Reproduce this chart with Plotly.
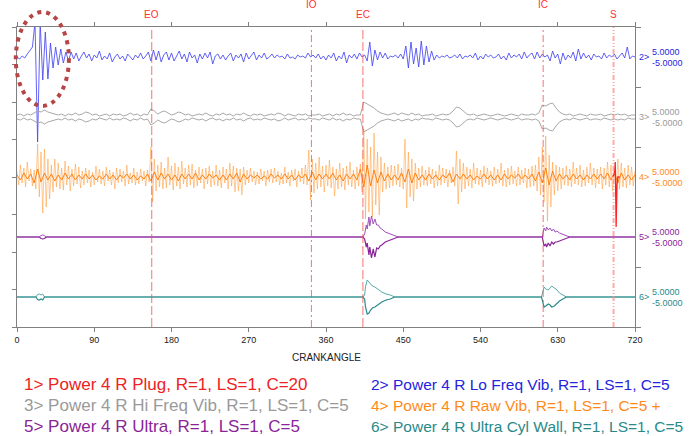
import numpy as np
import plotly.graph_objects as go

# ---------------- data ----------------
channel_names = ["1> Power 4 R Plug, R=1, LS=1, C=20",
                 "2> Power 4 R Lo Freq Vib, R=1, LS=1, C=5",
                 "3> Power 4 R Hi Freq Vib, R=1, LS=1, C=5",
                 "4> Power 4 R Raw Vib, R=1, LS=1, C=5 +",
                 "5> Power 4 R Ultra, R=1, LS=1, C=5",
                 "6> Power 4 R Ultra Cyl Wall, R=1, LS=1, C=5"]
channel_colors = ["#EE2222", "#2424DD", "#9A9A9A", "#FF8A1A", "#8A2598", "#2A8A8A"]
channel_offsets = [150, 270, 210, 150, 90, 30]
scale_top = "5.0000"
scale_bot = "-5.0000"

x_ticks = [0, 90, 180, 270, 360, 450, 540, 630, 720]
event_names = ["EO", "IO", "EC", "IC", "S"]
event_deg = [157, 343, 403, 613, 695]

# channel 1 (plug) spike near S
red_x = [694, 696, 697, 698, 699, 700, 702]
red_y = [0, 3, 15, -50, -8, 0, 0]

# channel 2 (lo freq vib) every 3 deg
blue_y = [0, -2, 1, -1, 3, 6, 10, 35, -85, 35,
          -23, 25, -22, 14, -11, 10, -8, 8, -6, 5,
          -4, 5, -2, 4, -4, 1, 5, -1, 3, -4,
          2, -1, 6, -3, 1, -2, 4, -5, 0, 3,
          -2, 1, -4, 3, 0, -3, 2, -1, 4, -2,
          1, 5, -4, 7, -3, 6, -5, 2, 5, -3,
          4, -4, 1, 6, -2, 3, -5, 5, -1, 2,
          -6, 3, -2, 4, -1, 5, -7, 1, 3, -2,
          2, -3, 1, 4, -4, 2, -1, 3, -5, 4,
          -2, 1, 5, -3, 2, -1, 4, -2, 0, 3,
          -1, 2, 0, 1, -2, 3, -1, 0, -2, 2,
          0, 1, -1, 4, 0, 2, -1, 3, -2, 1,
          -3, 2, -1, 4, -4, 1, -2, 5, -6, 2,
          -1, 3, -2, 4, 0, 2, -4, 15, -9, 7,
          -3, 5, -1, 4, -2, 1, 0, 2, -1, 3,
          -2, 11, -11, 15, -7, 9, -10, 16, -8, 11,
          -5, 6, -3, 2, -1, 1, 0, 2, -1, 0,
          2, -1, 3, -2, 1, 0, 2, -1, 4, -3,
          1, -2, 3, 0, 2, -1, 0, 3, -2, 1,
          -3, 4, -1, 2, 0, 3, -2, 5, -1, 2,
          4, -2, 5, -1, 3, 0, 2, -4, 6, -1,
          3, -7, 4, -3, 2, -1, 5, -4, 8, -2,
          4, -1, 2, -3, 3, 0, 1, -2, 4, -1,
          2, 0, 3, -2, 1, 4, -1, 10, -2, 1, 0]

# channel 3 (hi freq vib) envelope every 4 deg
gray_env = [2, 3, 1, 3, 2, 4, 6, 5, 7, 5,
            4, 3, 2, 3, 1, 3, 2, 4, 2, 3,
            5, 4, 2, 3, 1, 2, 3, 1, 3, 2,
            3, 1, 2, 4, 2, 3, 1, 3, 2, 8,
            6, 3, 5, 6, 4, 2, 3, 5, 4, 2,
            3, 1, 2, 3, 2, 4, 2, 1, 3, 2,
            4, 2, 3, 1, 3, 2, 4, 2, 1, 3,
            2, 3, 1, 2, 3, 2, 4, 3, 1, 3,
            2, 1, 3, 2, 3, 1, 2, 2, 3, 1,
            2, 3, 1, 3, 2, 4, 2, 3, 1, 2,
            2, 15, 13, 11, 9, 6, 4, 3, 2, 3,
            4, 2, 4, 3, 2, 4, 2, 3, 1, 2,
            2, 3, 1, 2, 3, 2, 3, 6, 10, 9,
            6, 3, 2, 3, 1, 2, 3, 2, 1, 2,
            3, 2, 1, 2, 3, 2, 1, 3, 2, 2,
            3, 2, 4, 12, 11, 13, 14, 9, 5, 3,
            2, 3, 1, 2, 3, 2, 1, 3, 2, 2,
            3, 1, 2, 3, 2, 3, 2, 3, 1, 2,
            2]

# channel 4 (raw vib) every 2 deg
orange_y = [5, -8, 12, -6, 9, -10, 15, -4, 8, -9,
            7, -12, 33, -20, 25, -36, 28, -30, 18, -22,
            12, -15, 18, -10, 14, -12, 9, -13, 16, -8,
            11, -14, 8, -9, 13, -7, 10, -11, 6, -8,
            9, -6, 7, -10, 5, -8, 11, -5, 8, -7,
            6, -9, 10, -4, 7, -8, 5, -12, 9, -6,
            8, -5, 6, -9, 12, -7, 4, -6, 9, -8,
            5, -7, 8, -4, 6, -9, 7, -5, 30, -25,
            18, -14, 12, -10, 15, -12, 9, -11, 20, -8,
            11, -13, 14, -9, 10, -12, 16, -7, 9, -10,
            12, -8, 13, -11, 7, -9, 10, -6, 8, -12,
            9, -7, 11, -10, 6, -8, 12, -9, 7, -11,
            10, -6, 8, -12, 14, -9, 11, -15, 9, -14,
            8, -18, 10, -8, 7, -6, 9, -5, 6, -8,
            5, -7, 8, -4, 6, -9, 7, -5, 8, -6,
            9, -5, 6, -8, 4, -7, 10, -6, 5, -9,
            7, -4, 8, -10, 6, -5, 9, -7, 12, -8,
            27, -23, 18, -16, 14, -12, 20, -10, 11, -15,
            12, -9, 17, -11, 10, -19, 8, -12, 14, -10,
            9, -13, 11, -8, 15, -10, 7, -12, 10, -9,
            13, -15, 48, -42, 38, -35, 30, -40, 44, -28,
            25, -38, 20, -15, 14, -12, 10, -11, 12, -9,
            11, -8, 13, -10, 9, -12, 38, -31, 25, -20,
            18, -24, 14, -12, 9, -10, 11, -8, 7, -9,
            10, -7, 8, -11, 6, -9, 12, -8, 9, -6,
            8, -10, 7, -6, 10, -9, 26, -27, 18, -15,
            14, -12, 10, -9, 8, -11, 14, -7, 9, -8,
            7, -10, 11, -6, 9, -8, 6, -9, 10, -7,
            8, -6, 14, -9, 7, -10, 9, -8, 11, -7,
            6, -9, 10, -8, 7, -6, 9, -11, 8, -10,
            11, -9, 12, -14, 20, -18, 30, -25, 41, -44,
            22, -30, 15, -18, 12, -14, 10, -12, 9, -8,
            11, -9, 8, -10, 15, -7, 9, -8, 12, -10,
            7, -9, 10, -6, 14, -8, 9, -11, 8, -7,
            10, -12, 9, -8, 15, -10, 12, -14, 9, -16,
            18, -12, 14, -10, 9, -11, 12, -8, 10, -9,
            6]
# dense core of channel 4, every 4 deg
orange_core = [2, -3, 4, -2, 3, -6, 8, -5, 4, -3,
               3, -4, 2, -3, 4, -2, 3, -3, 2, -2,
               3, -2, 2, -3, 1, -2, 3, -2, 2, -3,
               2, -1, 3, -2, 2, -3, 1, -2, 3, -4,
               5, -3, 4, -2, 3, -3, 2, -4, 3, -2,
               3, -2, 4, -3, 2, -2, 3, -1, 2, -3,
               2, -3, 3, -2, 4, -5, 3, -2, 2, -1,
               2, -2, 1, -2, 3, -1, 2, -2, 3, -2,
               2, -3, 2, -1, 3, -4, 5, -3, 3, -2,
               3, -2, 4, -3, 2, -4, 3, -2, 3, -3,
               8, -10, 12, -9, 7, -6, 5, -4, 3, -3,
               2, -3, 4, -5, 8, -6, 4, -3, 2, -3,
               3, -2, 2, -3, 2, -1, 4, -5, 3, -2,
               3, -2, 2, -3, 1, -2, 3, -2, 2, -3,
               2, -3, 3, -2, 2, -1, 3, -2, 2, -2,
               3, -4, 5, -6, 9, -8, 6, -4, 3, -2,
               2, -3, 3, -2, 2, -3, 2, -2, 3, -2,
               3, -2, 4, -3, 5, -6, 4, -3, 2, -3,
               2]

# channel 5 (ultra)
purple_x = [0, 26, 28, 30, 32, 34, 36,
            403, 405, 407, 408, 410, 411, 413, 415, 417, 419, 421, 423, 425, 429, 432, 435, 437, 441, 444,
            612, 613, 614, 616, 617, 619, 621, 623, 625, 627, 629, 632, 635, 638, 641, 644,
            720]
purple_up = [0, 0, 1.5, 2, 1.5, 0, 0,
             0, 3, 12, 8, 20, 11, 21, 13, 18, 12, 12, 9, 8, 5, 4, 3, 2, 1, 0,
             0, 5, 9, 6, 10, 7, 9, 6, 8, 5, 6, 4, 3, 2, 1, 0,
             0]
purple_lo = [0, 0, -1.5, -2, -1.5, 0, 0,
             0, -2, -10, -6, -18, -10, -21, -12, -20, -11, -12, -9, -8, -5, -4, -3, -2, -1, 0,
             0, -6, -9, -7, -10, -6, -9, -5, -7, -5, -5, -4, -3, -2, -1, 0,
             0]

# channel 6 (ultra cyl wall)
teal_x = [0, 22, 24, 26, 28, 30, 32,
          403, 405, 406, 408, 410, 412, 414, 417, 421, 425, 430, 435, 440,
          611, 612, 614, 616, 619, 621, 623, 626, 628, 632, 636, 640,
          720]
teal_up = [0, 0, 2.5, 3, 2, 3, 0,
           0, 2, 10, 17, 15, 12, 11, 10, 7, 5, 3, 2, 0,
           0, 3, 10, 8, 7, 9, 11, 9, 8, 4, 2, 0,
           0]
teal_lo = [0, 0, -2.5, -3, -2, -3, 0,
           0, -2, -10, -17, -16, -13, -11, -10, -7, -5, -3, -2, 0,
           0, -3, -10, -9, -7, -8, -10, -9, -7, -4, -2, 0,
           0]

# ---------------- figure ----------------
NARROW = "Liberation Sans Narrow, Arial Narrow, Liberation Sans, Arial, sans-serif"
SANS = "Liberation Sans, Arial, sans-serif"

fig = go.Figure()

def grid(vals):
    return np.linspace(0, 720, len(vals))

# channel 2 blue
fig.add_trace(go.Scatter(x=grid(blue_y), y=np.array(blue_y) + channel_offsets[1], mode="lines",
                         line=dict(color="rgba(70,70,245,0.85)", width=1)))
# channel 3 gray (upper and lower envelope)
g = np.array(gray_env, dtype=float)
fig.add_trace(go.Scatter(x=grid(gray_env), y=g + channel_offsets[2], mode="lines",
                         line=dict(color="#A8A8A8", width=1)))
fig.add_trace(go.Scatter(x=grid(gray_env), y=-g + channel_offsets[2], mode="lines",
                         line=dict(color="#A8A8A8", width=1)))
# channel 4 orange
fig.add_trace(go.Scatter(x=grid(orange_y), y=np.array(orange_y) + channel_offsets[3], mode="lines",
                         line=dict(color="rgba(255,150,45,0.5)", width=1)))
fig.add_trace(go.Scatter(x=grid(orange_core), y=np.array(orange_core) + channel_offsets[3], mode="lines",
                         line=dict(color="rgba(255,120,0,0.9)", width=1)))
# channel 5 purple
fig.add_trace(go.Scatter(x=purple_x, y=np.array(purple_up) + channel_offsets[4], mode="lines",
                         line=dict(color="#A04FB8", width=1)))
fig.add_trace(go.Scatter(x=purple_x, y=np.array(purple_lo) + channel_offsets[4], mode="lines",
                         line=dict(color="#8A2598", width=1.2)))
# channel 6 teal
fig.add_trace(go.Scatter(x=teal_x, y=np.array(teal_up) + channel_offsets[5], mode="lines",
                         line=dict(color="#55AAAA", width=1)))
fig.add_trace(go.Scatter(x=teal_x, y=np.array(teal_lo) + channel_offsets[5], mode="lines",
                         line=dict(color="#2A8A8A", width=1.2)))
# channel 1 red plug
fig.add_trace(go.Scatter(x=red_x, y=np.array(red_y) + channel_offsets[0], mode="lines",
                         line=dict(color="#FF2020", width=1.3)))
# dummy for right axis
fig.add_trace(go.Scatter(x=[None], y=[None], yaxis="y2", mode="lines"))

# event lines and labels
ev_dash = ["9px,3px", "7px,3px,2px,3px", "9px,3px", "7px,3px,2px,3px", "5px,2px,1px,2px,1px,2px"]
ev_color = ["rgba(240,80,80,0.8)"] * 4 + ["rgba(255,140,140,0.75)"]
ev_width = [1, 1, 1, 1, 2]
ev_label_y = [1.043, 1.075, 1.043, 1.075, 1.043]
for name, d, ds, c, w, ly in zip(event_names, event_deg, ev_dash, ev_color, ev_width, ev_label_y):
    fig.add_shape(type="line", xref="x", yref="paper", x0=d, x1=d, y0=0, y1=1,
                  line=dict(color=c, width=w, dash=ds), layer="above")
    fig.add_annotation(x=d, y=ly, xref="x", yref="paper", text=name, showarrow=False,
                       font=dict(family=NARROW, size=10, color="#FF3030"),
                       xanchor="center", yanchor="middle")

# right side channel labels
for i in range(1, 6):
    col = channel_colors[i]
    off = channel_offsets[i]
    fig.add_annotation(x=1.0035, y=off, xref="paper", yref="y", text=f"{i+1}>", showarrow=False,
                       font=dict(family=NARROW, size=9, color=col), xanchor="left", yanchor="middle")
    fig.add_annotation(x=1.024, y=off + 5.5, xref="paper", yref="y", text=scale_top, showarrow=False,
                       font=dict(family=NARROW, size=9, color=col), xanchor="left", yanchor="middle")
    fig.add_annotation(x=1.024, y=off - 5.5, xref="paper", yref="y", text=scale_bot, showarrow=False,
                       font=dict(family=NARROW, size=9, color=col), xanchor="left", yanchor="middle")

# axis title
fig.add_annotation(x=0.5, y=-0.1, xref="paper", yref="paper", text="CRANKANGLE", showarrow=False,
                   font=dict(family=NARROW, size=10, color="#202020"), xanchor="center", yanchor="middle")

# legend text rows (left column / right column)
leg_pos = [(0.0076, -0.193), (0.569, -0.193), (0.0076, -0.263), (0.569, -0.263),
           (0.0076, -0.333), (0.569, -0.333)]
leg_size = [17, 15.5, 17, 15.5, 17, 15.5]
for name, col, (lx, ly), fs in zip(channel_names, channel_colors, leg_pos, leg_size):
    fig.add_annotation(x=lx, y=ly, xref="paper", yref="paper", text=name, showarrow=False,
                       font=dict(family=SANS, size=fs, color=col), xanchor="left", yanchor="middle")

# dotted ellipse highlight
fig.add_shape(type="circle", xref="paper", yref="paper",
              x0=-0.002, x1=0.084, y0=0.737, y1=1.05,
              line=dict(color="#B84545", width=4, dash="4px,5px"), layer="above")

axis_col = "#808080"
fig.update_layout(
    width=691, height=436,
    margin=dict(l=17, r=56, t=27, b=109, autoexpand=False),
    paper_bgcolor="white", plot_bgcolor="white", showlegend=False,
    xaxis=dict(range=[0, 720], tickmode="array", tickvals=x_ticks, ticks="outside", ticklen=4,
               tickcolor=axis_col, showline=True, linecolor=axis_col, linewidth=1, mirror="ticks",
               showgrid=False, zeroline=False,
               tickfont=dict(family=NARROW, size=9, color="#202020")),
    yaxis=dict(range=[0, 300], tickmode="array", tickvals=[i * 37.5 for i in range(9)],
               ticks="outside", ticklen=4, tickcolor=axis_col, showticklabels=False,
               showline=True, linecolor=axis_col, linewidth=1, showgrid=False, zeroline=False),
    yaxis2=dict(range=[0, 300], overlaying="y", side="right", tickmode="array",
                tickvals=[0, 60, 120, 180, 240, 300], ticks="outside", ticklen=5,
                tickcolor=axis_col, showticklabels=False, showline=True, linecolor=axis_col,
                linewidth=1, showgrid=False, zeroline=False),
)

fig.write_html("out.html", config={"displayModeBar": False},
               post_script="document.body.style.margin='0px';document.body.style.overflow='hidden';")
